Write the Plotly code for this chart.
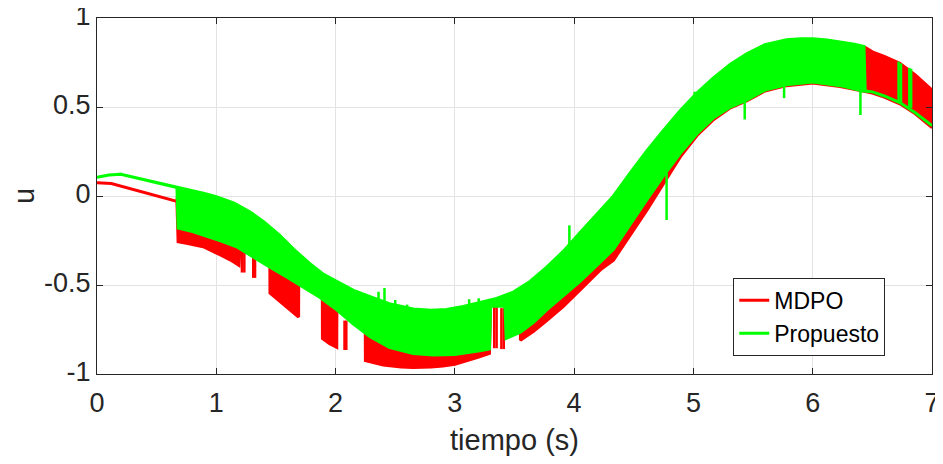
import plotly.graph_objects as go

# ---------------- data ----------------
# MDPO (red): upper and lower envelope of the chattering control signal
mdpo_upper_t = [0.0, 0.12, 0.67, 0.68, 0.8, 0.9, 1.0, 1.15, 1.28, 1.4,
                1.53, 1.65, 1.785, 1.9, 2.01, 2.15, 2.29, 2.45, 2.65, 2.8,
                2.93, 3.07, 3.21, 3.35, 3.49, 3.63, 3.77, 3.91, 4.05, 4.19,
                4.33, 4.47, 4.61, 4.75, 4.89, 5.03, 5.17, 5.31, 5.45, 5.6,
                5.78, 5.9, 6.0, 6.12, 6.23, 6.35, 6.44, 6.5, 6.6, 6.73,
                6.86, 7.0]
mdpo_upper_y = [0.075, 0.07, -0.03, 0.035, 0.02, 0.005, -0.014, -0.05, -0.098, -0.155,
                -0.23, -0.31, -0.39, -0.45, -0.49, -0.54, -0.576, -0.615, -0.645, -0.652,
                -0.647, -0.63, -0.608, -0.585, -0.55, -0.49, -0.41, -0.32, -0.215, -0.11,
                -0.01, 0.12, 0.245, 0.36, 0.47, 0.57, 0.655, 0.73, 0.79, 0.84,
                0.868, 0.874, 0.873, 0.867, 0.856, 0.842, 0.835, 0.81, 0.785, 0.745,
                0.68, 0.595]
mdpo_lower_t = [0.0, 0.12, 0.67, 0.68, 0.75, 0.89, 1.03, 1.12, 1.19, 1.2,
                1.31, 1.449, 1.45, 1.57, 1.69, 1.691, 1.8, 1.889, 1.89, 1.95,
                2.01, 2.011, 2.15, 2.249, 2.25, 2.4, 2.55, 2.65, 2.8, 2.9,
                3.0, 3.1, 3.2, 3.29, 3.3, 3.42, 3.43, 3.549, 3.55, 3.66,
                3.77, 3.91, 4.05, 4.22, 4.33, 4.47, 4.61, 4.75, 4.89, 5.03,
                5.17, 5.31, 5.45, 5.6, 5.78, 6.0, 6.23, 6.42, 6.5, 6.6,
                6.73, 6.86, 7.0]
mdpo_lower_y = [0.075, 0.07, -0.03, -0.257, -0.265, -0.285, -0.33, -0.36, -0.39, -0.285,
                -0.33, -0.39, -0.545, -0.61, -0.68, -0.49, -0.535, -0.565, -0.80, -0.83,
                -0.85, -0.63, -0.71, -0.765, -0.925, -0.95, -0.96, -0.963, -0.96, -0.955,
                -0.945, -0.925, -0.905, -0.885, -0.61, -0.61, -0.79, -0.755, -0.81, -0.76,
                -0.70, -0.62, -0.53, -0.415, -0.36, -0.22, -0.08, 0.07, 0.22, 0.34,
                0.43, 0.495, 0.535, 0.59, 0.62, 0.635, 0.615, 0.59, 0.578, 0.556,
                0.518, 0.462, 0.385]
# isolated red spikes: time, one end, other end
mdpo_spike_t = [1.215, 1.235, 1.31, 1.325, 2.075, 2.09, 3.33, 3.35, 3.39, 3.41]
mdpo_spike_top = [-0.30, -0.30, -0.33, -0.33, -0.70, -0.70, -0.62, -0.62, -0.63, -0.63]
mdpo_spike_bot = [-0.43, -0.43, -0.46, -0.46, -0.865, -0.865, -0.855, -0.855, -0.86, -0.86]

# Propuesto (green): upper and lower envelope
prop_upper_t = [0.0, 0.1, 0.2, 0.67, 0.8, 0.9, 1.0, 1.15, 1.28, 1.4,
                1.53, 1.65, 1.785, 1.9, 2.01, 2.15, 2.29, 2.45, 2.65, 2.8,
                2.93, 3.07, 3.21, 3.35, 3.49, 3.63, 3.77, 3.91, 4.05, 4.19,
                4.33, 4.47, 4.61, 4.75, 4.89, 5.03, 5.17, 5.31, 5.45, 5.6,
                5.78, 5.9, 6.0, 6.12, 6.23, 6.35, 6.43, 6.44, 6.5, 6.6,
                6.73, 6.86, 7.0]
prop_upper_y = [0.105, 0.118, 0.122, 0.047, 0.03, 0.015, -0.004, -0.04, -0.088, -0.145,
                -0.22, -0.30, -0.38, -0.44, -0.48, -0.53, -0.566, -0.605, -0.635, -0.642,
                -0.637, -0.62, -0.598, -0.575, -0.54, -0.48, -0.40, -0.31, -0.205, -0.10,
                0.0, 0.13, 0.255, 0.37, 0.48, 0.58, 0.665, 0.74, 0.80, 0.85,
                0.878, 0.884, 0.883, 0.877, 0.866, 0.852, 0.84, 0.59, 0.585, 0.562,
                0.525, 0.468, 0.395]
prop_lower_t = [0.0, 0.1, 0.2, 0.67, 0.68, 0.8, 0.89, 1.03, 1.17, 1.31,
                1.45, 1.59, 1.73, 1.87, 2.01, 2.15, 2.29, 2.45, 2.65, 2.82,
                3.0, 3.21, 3.29, 3.3, 3.42, 3.43, 3.55, 3.66, 3.77, 3.91,
                4.05, 4.19, 4.33, 4.47, 4.61, 4.75, 4.89, 5.03, 5.17, 5.31,
                5.45, 5.6, 5.78, 6.0, 6.23, 6.42, 6.5, 6.6, 6.73, 6.86,
                7.0]
prop_lower_y = [0.105, 0.118, 0.122, 0.047, -0.18, -0.20, -0.22, -0.25, -0.285, -0.34,
                -0.40, -0.455, -0.51, -0.57, -0.64, -0.72, -0.79, -0.85, -0.885, -0.893,
                -0.89, -0.87, -0.86, -0.62, -0.62, -0.80, -0.765, -0.71, -0.64, -0.56,
                -0.48, -0.39, -0.30, -0.16, -0.02, 0.115, 0.24, 0.35, 0.44, 0.50,
                0.54, 0.595, 0.625, 0.64, 0.62, 0.59, 0.585, 0.562, 0.525, 0.468,
                0.395]
# isolated green spikes: time, one end, other end
prop_spike_t = [2.36, 2.41, 2.50, 2.60, 3.12, 3.20, 3.96, 4.775, 5.01, 5.43, 5.76,
                6.40, 6.72, 6.74, 6.81, 6.825]
prop_spike_top = [-0.62, -0.62, -0.64, -0.65, -0.62, -0.61, -0.30, 0.13, 0.55, 0.54,
                  0.63, 0.60, 0.755, 0.745, 0.72, 0.715]
prop_spike_bot = [-0.538, -0.517, -0.584, -0.61, -0.58, -0.575, -0.165, -0.135, 0.586,
                  0.43, 0.55, 0.455, 0.53, 0.525, 0.50, 0.495]

x_ticks = [0, 1, 2, 3, 4, 5, 6, 7]
x_ticklabels = ["0", "1", "2", "3", "4", "5", "6", "7"]
y_ticks = [-1, -0.5, 0, 0.5, 1]
y_ticklabels = ["-1", "-0.5", "0", "0.5", "1"]

RED = "#FF0000"
GREEN = "#00FF00"
AX = "#262626"
FONT = "Liberation Sans, Arial, sans-serif"


def band(ut, uy, lt, ly):
    return list(ut) + list(lt)[::-1], list(uy) + list(ly)[::-1]


def spikes(t, a, b):
    xs, ys = [], []
    for ti, ai, bi in zip(t, a, b):
        xs += [ti, ti, None]
        ys += [ai, bi, None]
    return xs, ys


fig = go.Figure()

bx, by = band(mdpo_upper_t, mdpo_upper_y, mdpo_lower_t, mdpo_lower_y)
fig.add_trace(go.Scatter(x=bx, y=by, fill="toself", fillcolor=RED, mode="lines",
                         line=dict(color=RED, width=3), showlegend=False, hoverinfo="skip"))
sx, sy = spikes(mdpo_spike_t, mdpo_spike_top, mdpo_spike_bot)
fig.add_trace(go.Scatter(x=sx, y=sy, mode="lines", line=dict(color=RED, width=2.5),
                         showlegend=False, hoverinfo="skip"))

bx, by = band(prop_upper_t, prop_upper_y, prop_lower_t, prop_lower_y)
fig.add_trace(go.Scatter(x=bx, y=by, fill="toself", fillcolor=GREEN, mode="lines",
                         line=dict(color=GREEN, width=3), showlegend=False, hoverinfo="skip"))
sx, sy = spikes(prop_spike_t, prop_spike_top, prop_spike_bot)
fig.add_trace(go.Scatter(x=sx, y=sy, mode="lines", line=dict(color=GREEN, width=2.5),
                         showlegend=False, hoverinfo="skip"))

# legend entries
fig.add_trace(go.Scatter(x=[None], y=[None], mode="lines", name="MDPO",
                         line=dict(color=RED, width=3)))
fig.add_trace(go.Scatter(x=[None], y=[None], mode="lines", name="Propuesto",
                         line=dict(color=GREEN, width=3)))

axis_common = dict(showgrid=True, gridcolor="#e3e3e3", gridwidth=1, zeroline=False,
                   showline=True, linecolor=AX, linewidth=1, mirror="ticks",
                   ticks="inside", ticklen=6, tickcolor=AX, automargin=False,
                   ticklabeloverflow="allow",
                   tickfont=dict(family=FONT, size=27, color=AX))

# the page body adds an 8 px offset, so the figure is 8 px smaller than the window
fig.update_layout(
    width=935, height=456,
    margin=dict(l=89, r=11, t=10, b=90),
    paper_bgcolor="white", plot_bgcolor="white",
    font=dict(family=FONT, color=AX),
    xaxis=dict(range=[0, 7], tickvals=x_ticks, ticktext=x_ticklabels,
               ticklabelstandoff=5,
               title=dict(text="tiempo (s)", font=dict(family=FONT, size=29, color=AX),
                          standoff=12),
               **axis_common),
    yaxis=dict(range=[-1, 1], tickvals=y_ticks, ticktext=y_ticklabels,
               ticklabelshift=-2,
               title=dict(text="u", font=dict(family=FONT, size=29, color=AX),
                          standoff=28),
               **axis_common),
    legend=dict(x=0.762, y=0.27, xanchor="left", yanchor="top",
                bgcolor="white", bordercolor=AX, borderwidth=1,
                font=dict(family=FONT, size=23, color="black"),
                tracegroupgap=0, itemwidth=30),
    showlegend=True,
)

fig.write_html("out.html")
